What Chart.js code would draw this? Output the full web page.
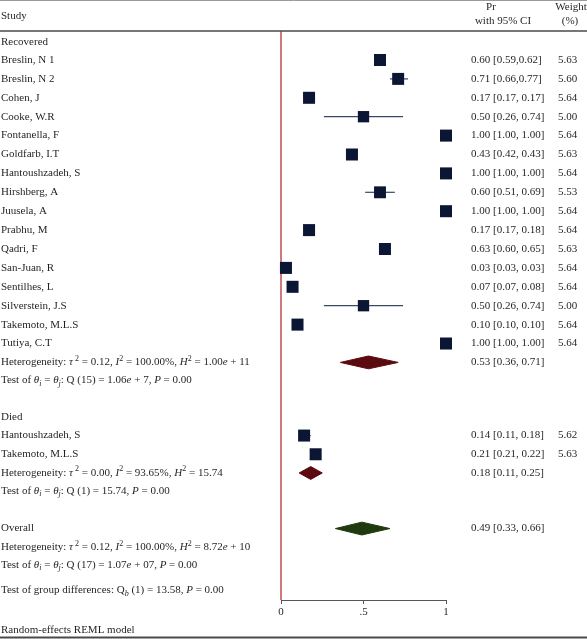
<!DOCTYPE html>
<html>
<head>
<meta charset="utf-8">
<script src="https://cdn.jsdelivr.net/npm/chart.js@4.4.1/dist/chart.umd.min.js"></script>
<style>
html,body{margin:0;padding:0;background:#fff;}
canvas{display:block;}
</style>
</head>
<body>
<canvas id="c" width="587" height="639"></canvas>
<script>
// ---------------- DATA ----------------
const recNames = ['Breslin, N 1','Breslin, N 2','Cohen, J','Cooke, W.R','Fontanella, F','Goldfarb, I.T','Hantoushzadeh, S','Hirshberg, A','Juusela, A','Prabhu, M','Qadri, F','San-Juan, R','Sentilhes, L','Silverstein, J.S','Takemoto, M.L.S','Tutiya, C.T'];
const recEst = [0.60,0.71,0.17,0.50,1.00,0.43,1.00,0.60,1.00,0.17,0.63,0.03,0.07,0.50,0.10,1.00];
const recLo  = [0.59,0.66,0.17,0.26,1.00,0.42,1.00,0.51,1.00,0.17,0.60,0.03,0.07,0.26,0.10,1.00];
const recHi  = [0.62,0.77,0.17,0.74,1.00,0.43,1.00,0.69,1.00,0.18,0.65,0.03,0.08,0.74,0.10,1.00];
const recW   = [5.63,5.60,5.64,5.00,5.64,5.63,5.64,5.53,5.64,5.64,5.63,5.64,5.64,5.00,5.64,5.64];
const recCI  = ['0.60 [0.59,0.62]','0.71 [0.66,0.77]','0.17 [0.17, 0.17]','0.50 [0.26, 0.74]','1.00 [1.00, 1.00]','0.43 [0.42, 0.43]','1.00 [1.00, 1.00]','0.60 [0.51, 0.69]','1.00 [1.00, 1.00]','0.17 [0.17, 0.18]','0.63 [0.60, 0.65]','0.03 [0.03, 0.03]','0.07 [0.07, 0.08]','0.50 [0.26, 0.74]','0.10 [0.10, 0.10]','1.00 [1.00, 1.00]'];

const diedNames = ['Hantoushzadeh, S','Takemoto, M.L.S'];
const diedEst = [0.14,0.21];
const diedLo  = [0.11,0.21];
const diedHi  = [0.18,0.22];
const diedW   = [5.62,5.63];
const diedCI  = ['0.14 [0.11, 0.18]','0.21 [0.21, 0.22]'];

const subEst = [0.53,0.18];
const subLo  = [0.36,0.11];
const subHi  = [0.71,0.25];
const subCI  = ['0.53 [0.36, 0.71]','0.18 [0.11, 0.25]'];

const overallEst = 0.49, overallLo = 0.33, overallHi = 0.66;
const overallCI = '0.49 [0.33, 0.66]';

const xTicks = [0, 0.5, 1];
const xTickLabels = ['0', '.5', '1'];

// ---------------- LAYOUT (row positions in row units) ----------------
const R = {
  recHead: -0.97,
  recStart: 0,
  het1: 16.0, test1: 16.96,
  diedHead: 18.87, diedStart: 19.87, diedStep: 0.99,
  het2: 21.85, test2: 22.8,
  overall: 24.79, het3: 25.79, test3: 26.72, group: 28.07,
  yMin: -1.534, yMax: 28.57
};
const recRows = recNames.map((_, i) => R.recStart + i);
const diedRows = diedNames.map((_, i) => R.diedStart + i * R.diedStep);
const subRows = [R.het1, R.het2];

const NAVY = '#0b1634', CIC = '#3b4868', MAROON = '#5b0a10', GREEN = '#1e3a0e';
const TXT = '#231f20';
const FONT = '"Liberation Serif", "Times New Roman", serif';

function sqRadius(w) { return 8.5 * Math.sqrt(w / 5.64); }
const DH = 0.34; // diamond half height (row units)

const datasets = [];
// CI lines
function addCI(lo, hi, row) {
  datasets.push({type:'line', data:[{x:lo,y:row},{x:hi,y:row}], borderColor:CIC, borderWidth:1.2, pointRadius:0, fill:false, order:3});
}
recLo.forEach((lo, i) => addCI(lo, recHi[i], recRows[i]));
diedLo.forEach((lo, i) => addCI(lo, diedHi[i], diedRows[i]));
// squares
datasets.push({
  type:'scatter',
  data: recEst.map((e,i)=>({x:e,y:recRows[i]})).concat(diedEst.map((e,i)=>({x:e,y:diedRows[i]}))),
  pointStyle:'rect', pointRadius: recW.concat(diedW).map(sqRadius),
  backgroundColor:NAVY, borderColor:NAVY, borderWidth:0, order:2, clip:false
});
// diamonds
function addDiamond(lo, est, hi, row, col) {
  datasets.push({type:'line', data:[{x:lo,y:row},{x:est,y:row-DH},{x:hi,y:row},{x:est,y:row+DH},{x:lo,y:row}],
    borderColor:col, backgroundColor:col, borderWidth:1, pointRadius:0, fill:'shape', tension:0, order:1});
}
subEst.forEach((e,i)=>addDiamond(subLo[i], e, subHi[i], subRows[i], MAROON));
addDiamond(overallLo, overallEst, overallHi, R.overall, GREEN);

// ---------------- TEXT ----------------
function drawRich(ctx, segs, x, y) {
  let cx = x;
  for (const [t, s] of segs) {
    let size = 11, dy = 0, style = '';
    if (s === 'i') style = 'italic ';
    if (s === 'sup') { size = 8; dy = -4; }
    if (s === 'sub') { size = 8; dy = 3; }
    if (s === 'isub') { size = 8; dy = 3; style = 'italic '; }
    ctx.font = style + size + 'px ' + FONT;
    ctx.fillText(t, cx, y + dy);
    cx += ctx.measureText(t).width;
  }
}
const het1 = [['Heterogeneity: ','n'],['τ','i'],[' 2','sup'],[' = 0.12, ','n'],['I','i'],['2','sup'],[' = 100.00%, ','n'],['H','i'],['2','sup'],[' = 1.00','n'],['e','i'],[' + 11','n']];
const test1 = [['Test of ','n'],['θ','i'],['i','isub'],[' = ','n'],['θ','i'],['j','isub'],[': Q (15) = 1.06','n'],['e','i'],[' + 7, ','n'],['P','i'],[' = 0.00','n']];
const het2 = [['Heterogeneity: ','n'],['τ','i'],[' 2','sup'],[' = 0.00, ','n'],['I','i'],['2','sup'],[' = 93.65%, ','n'],['H','i'],['2','sup'],[' = 15.74','n']];
const test2 = [['Test of ','n'],['θ','i'],['i','isub'],[' = ','n'],['θ','i'],['j','isub'],[': Q (1) = 15.74, ','n'],['P','i'],[' = 0.00','n']];
const het3 = [['Heterogeneity: ','n'],['τ','i'],[' 2','sup'],[' = 0.12, ','n'],['I','i'],['2','sup'],[' = 100.00%, ','n'],['H','i'],['2','sup'],[' = 8.72','n'],['e','i'],[' + 10','n']];
const test3 = [['Test of ','n'],['θ','i'],['i','isub'],[' = ','n'],['θ','i'],['j','isub'],[': Q (17) = 1.07','n'],['e','i'],[' + 07, ','n'],['P','i'],[' = 0.00','n']];
const group = [['Test of group differences: Q','n'],['b','isub'],[' (1) = 13.58, ','n'],['P','i'],[' = 0.00','n']];

const decor = {
  id:'decor',
  beforeDatasetsDraw(chart) {
    const {ctx, chartArea, scales} = chart;
    const x0 = scales.x.getPixelForValue(0);
    ctx.save();
    ctx.strokeStyle = '#c4585a'; ctx.lineWidth = 1.6;
    ctx.beginPath(); ctx.moveTo(x0, chartArea.top); ctx.lineTo(x0, chartArea.bottom); ctx.stroke();
    ctx.restore();
  },
  afterDraw(chart) {
    const {ctx, scales} = chart;
    const Y = v => scales.y.getPixelForValue(v);
    const W = chart.width;
    ctx.save();
    // frame lines
    ctx.strokeStyle = '#9a9a9a'; ctx.lineWidth = 1;
    ctx.beginPath(); ctx.moveTo(0, 0.5); ctx.lineTo(W, 0.5); ctx.stroke();
    ctx.strokeStyle = '#4a4a4a'; ctx.lineWidth = 1.5;
    ctx.beginPath(); ctx.moveTo(0, chart.chartArea.top); ctx.lineTo(W, chart.chartArea.top); ctx.stroke();
    ctx.strokeStyle = '#4a4a4a'; ctx.lineWidth = 2;
    ctx.beginPath(); ctx.moveTo(0, 637.5); ctx.lineTo(W, 637.5); ctx.stroke();

    ctx.fillStyle = TXT; ctx.textBaseline = 'middle';
    ctx.font = '11px ' + FONT;
    // header
    ctx.textAlign = 'left';
    ctx.fillText('Study', 1, 16);
    ctx.textAlign = 'center';
    ctx.fillText('Pr', 491, 7);
    ctx.fillText('with 95% CI', 503, 21);
    ctx.fillText('Weight', 571, 7);
    ctx.fillText('(%)', 570, 21);
    ctx.textAlign = 'left';
    const CIX = 471, WX = 558;
    ctx.fillText('Recovered', 1, Y(R.recHead));
    recNames.forEach((n, i) => {
      const y = Y(recRows[i]);
      ctx.fillText(n, 1, y);
      ctx.fillText(recCI[i], CIX, y);
      ctx.fillText(recW[i].toFixed(2), WX, y);
    });
    drawRich(ctx, het1, 1, Y(R.het1));
    ctx.font = '11px ' + FONT;
    ctx.fillText(subCI[0], CIX, Y(R.het1));
    drawRich(ctx, test1, 1, Y(R.test1));
    ctx.font = '11px ' + FONT;
    ctx.fillText('Died', 1, Y(R.diedHead));
    diedNames.forEach((n, i) => {
      const y = Y(diedRows[i]);
      ctx.fillText(n, 1, y);
      ctx.fillText(diedCI[i], CIX, y);
      ctx.fillText(diedW[i].toFixed(2), WX, y);
    });
    drawRich(ctx, het2, 1, Y(R.het2));
    ctx.font = '11px ' + FONT;
    ctx.fillText(subCI[1], CIX, Y(R.het2));
    drawRich(ctx, test2, 1, Y(R.test2));
    ctx.font = '11px ' + FONT;
    ctx.fillText('Overall', 1, Y(R.overall));
    ctx.fillText(overallCI, CIX, Y(R.overall));
    drawRich(ctx, het3, 1, Y(R.het3));
    drawRich(ctx, test3, 1, Y(R.test3));
    drawRich(ctx, group, 1, Y(R.group));
    ctx.font = '11px ' + FONT;
    ctx.fillText('Random-effects REML model', 1, 630);
    ctx.restore();
  }
};

new Chart(document.getElementById('c').getContext('2d'), {
  data: { datasets },
  options: {
    responsive: false,
    animation: false,
    events: [],
    layout: { padding: { left: 281, right: 141, top: 31, bottom: 19 } },
    plugins: { legend: { display: false }, tooltip: { enabled: false } },
    scales: {
      x: {
        type: 'linear', min: 0, max: 1,
        afterBuildTicks: s => { s.ticks = xTicks.map(v => ({ value: v })); },
        ticks: { callback: (v) => xTickLabels[xTicks.indexOf(v)], font: { family: FONT, size: 11 }, color: TXT, padding: 2, maxRotation: 0 },
        grid: { display: true, drawOnChartArea: false, drawTicks: true, tickLength: 4, color: '#555' },
        border: { display: true, color: '#555', width: 1 },
        afterFit: s => { s.height = 20; }
      },
      y: { type: 'linear', reverse: true, min: R.yMin, max: R.yMax, display: false }
    }
  },
  plugins: [decor]
});
</script>
</body>
</html>
